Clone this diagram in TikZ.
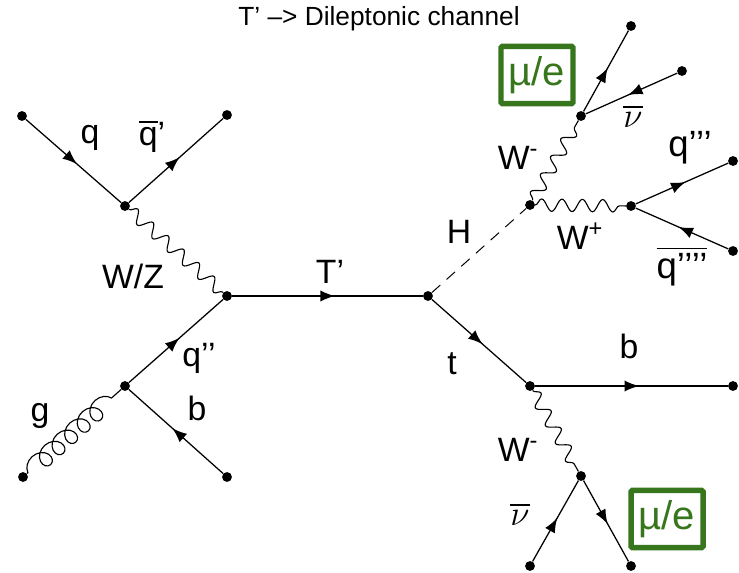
\documentclass[tikz,border=0pt]{standalone}
\usepackage{amsmath}
\usepackage{fontspec}
\setmainfont{Liberation Sans}
\usetikzlibrary{decorations.pathmorphing,decorations.markings}
\definecolor{boxgreen}{HTML}{38761D}
\tikzset{
vertex/.style={circle,fill=black,inner sep=0pt,minimum size=7pt},
fermion/.style={black,line width=0.9pt,postaction={decorate},decoration={markings,mark=at position 0.54 with {\arrow[scale=1.9]{latex}}}},
boson/.style={black,line width=0.8pt,decorate,decoration={snake,segment length=14.5pt,amplitude=4.4pt}},
gluon/.style={black,line width=0.8pt,decorate,decoration={coil,aspect=1.05,segment length=12pt,amplitude=6.5pt,pre length=1pt,post length=1pt}},
higgs/.style={black,line width=0.7pt,dashed,dash pattern=on 8pt off 6pt},
label/.style={inner sep=0pt,font=\fontsize{24}{28}\selectfont},
leptonbox/.style={draw=boxgreen,rounded corners=1pt,line width=3.9pt,text=boxgreen,inner sep=0pt,minimum width=1.8cm,minimum height=1.43cm,font=\fontsize{28.5}{33}\selectfont}
}
\begin{document}
\begin{tikzpicture}
\useasboundingbox (0cm,0cm) rectangle (18.475cm,-14.325cm);
\node[inner sep=0pt,font=\fontsize{18.7}{22}\selectfont] (title) at (9.475cm,-0.475cm) {T’ –> Dileptonic channel};
\node[vertex] (qin) at (0.55cm,-2.9cm) {};
\node[vertex] (qqbar) at (3.125cm,-5.15cm) {};
\node[vertex] (qbarout) at (5.675cm,-2.875cm) {};
\node[vertex] (prod) at (5.675cm,-7.4cm) {};
\node[vertex] (gq) at (3.125cm,-9.65cm) {};
\node[vertex] (gin) at (0.575cm,-11.925cm) {};
\node[vertex] (bin) at (5.675cm,-11.925cm) {};
\node[vertex] (decay) at (10.7cm,-7.4cm) {};
\node[vertex] (hdecay) at (13.25cm,-5.125cm) {};
\node[vertex] (wtop) at (14.525cm,-2.9cm) {};
\node[vertex] (muout) at (15.775cm,-0.65cm) {};
\node[vertex] (nuin) at (17.05cm,-1.775cm) {};
\node[vertex] (wplus) at (15.775cm,-5.15cm) {};
\node[vertex] (qout) at (18.325cm,-4.025cm) {};
\node[vertex] (qbarin) at (18.325cm,-6.275cm) {};
\node[vertex] (tdecay) at (13.25cm,-9.65cm) {};
\node[vertex] (bout) at (18.325cm,-9.65cm) {};
\node[vertex] (wbot) at (14.525cm,-11.9cm) {};
\node[vertex] (nubot) at (13.25cm,-14.15cm) {};
\node[vertex] (mubot) at (15.775cm,-14.15cm) {};
\draw[fermion] (qin) -- (qqbar);
\draw[fermion] (qqbar) -- (qbarout);
\draw[boson] (qqbar) -- (prod);
\draw[fermion] (gq) -- (prod);
\draw[fermion] (bin) -- (gq);
\draw[gluon] (gin) -- (gq);
\draw[fermion] (prod) -- (decay);
\draw[higgs] (decay) -- (hdecay);
\draw[fermion] (decay) -- (tdecay);
\draw[boson] (hdecay) -- (wtop);
\draw[boson] (hdecay) -- (wplus);
\draw[fermion] (wtop) -- (muout);
\draw[fermion] (nuin) -- (wtop);
\draw[fermion] (wplus) -- (qout);
\draw[fermion] (qbarin) -- (wplus);
\draw[fermion] (tdecay) -- (bout);
\draw[boson] (tdecay) -- (wbot);
\draw[fermion] (nubot) -- (wbot);
\draw[fermion] (wbot) -- (mubot);
\node[label] (lq) at (2.25cm,-3.45cm) {q};
\node[label] (lqbar) at (3.8cm,-3.4cm) {$\overline{\text{q}}$’};
\node[label] (lwz) at (3.325cm,-6.9cm) {W/Z};
\node[label] (lqpp) at (4.975cm,-8.95cm) {q’’};
\node[label] (lg) at (1cm,-10.4cm) {g};
\node[label] (lb) at (4.925cm,-10.2cm) {b};
\node[label] (ltp) at (8.25cm,-6.8cm) {T’};
\node[label] (lh) at (11.475cm,-5.8cm) {H};
\node[label] (lt) at (11.3cm,-9.1cm) {t};
\node[label] (lbout) at (15.725cm,-8.65cm) {b};
\node[label] (lwtop) at (12.95cm,-3.95cm) {W\textsuperscript{-}};
\node[label] (lwplus) at (14.5cm,-5.9cm) {W\textsuperscript{+}};
\node[label,font=\fontsize{26}{30}\selectfont] (lqppp) at (17.25cm,-3.7cm) {q’’’};
\node[label,font=\fontsize{26}{30}\selectfont] (lqbarpp) at (17.05cm,-6.65cm) {$\overline{\text{q’’’’}}$};
\node[label,font=\fontsize{27}{30}\selectfont] (lnutop) at (15.825cm,-2.9cm) {$\overline{\nu}$};
\node[label] (lwbot) at (12.95cm,-11.25cm) {W\textsuperscript{-}};
\node[label,font=\fontsize{27}{30}\selectfont] (lnubot) at (13cm,-12.85cm) {$\overline{\nu}$};
\node[leptonbox] (mutop) at (13.425cm,-1.875cm) {µ/e};
\node[leptonbox] (mubox) at (16.675cm,-12.975cm) {µ/e};
\end{tikzpicture}
\end{document}
